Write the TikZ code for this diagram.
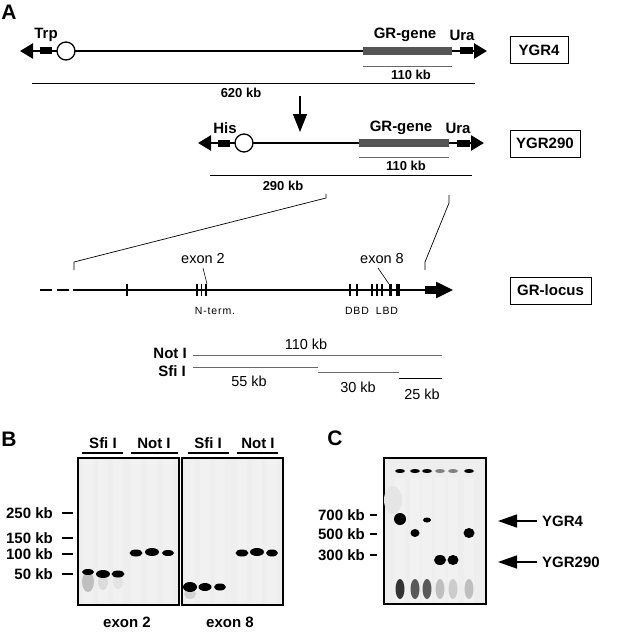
\documentclass[tikz,border=0pt]{standalone}
\usepackage{fontspec}
\setmainfont{Liberation Sans}
\newfontfamily\spacedsans[LetterSpace=8]{Liberation Sans}
\usetikzlibrary{arrows.meta,positioning,calc}
\definecolor{genegray}{RGB}{85,85,85}
\definecolor{scalegray}{RGB}{105,105,105}
\definecolor{gelgray}{RGB}{238,238,238}

\begin{document}
\begin{tikzpicture}[x=1pt, y=-1pt,
  panel/.style={font=\fontsize{21}{24}\selectfont\bfseries, inner sep=0pt},
  lbl/.style={font=\fontsize{15}{17}\selectfont\bfseries, inner sep=0pt},
  kb/.style={font=\fontsize{13}{15}\selectfont\bfseries, inner sep=0pt},
  txt/.style={font=\fontsize{14.5}{16}\selectfont, inner sep=0pt},
  dom/.style={font=\fontsize{10.5}{12}\spacedsans, inner sep=0pt},
  tagbox/.style={draw, line width=1pt, font=\fontsize{15}{17}\selectfont\bfseries,
                 minimum height=27pt, inner sep=0pt},
  chrom/.style={line width=2.6pt},
  gene/.style={fill=genegray},
  scl/.style={line width=0.9pt, draw=scalegray},
  zoomln/.style={line width=0.7pt},
  tipL/.style={-{Triangle[length=13pt,width=15pt]}},
  darr/.style={line width=1.4pt, -{Triangle[length=18pt,width=14pt]}},
  carr/.style={line width=1.4pt, -{Triangle[length=19pt,width=13pt]}},
  gel/.style={draw, line width=1.1pt, fill=gelgray},
  band/.style={fill=black},
  mk/.style={line width=1.4pt}
]
\useasboundingbox (0,0) rectangle (630,634);

% Panel letters
\node[panel] (pa) at (9,12)   {A};
\node[panel] (pb) at (9,439)  {B};
\node[panel] (pc) at (335,438) {C};

% YGR4 construct
\draw[chrom] (40,51) -- (460,51);
\fill[gene] (363,47) rectangle (452,55);
\fill (40,47.5) rectangle (52,54.5);
\fill (460,47.5) rectangle (473,54.5);
\draw[chrom, tipL] (40,51) -- (20,51);
\draw[chrom, -{Triangle[length=13pt,width=15pt]}] (472,51) -- (487,51);
\draw[line width=1.3pt, fill=white] (66,51) circle (9pt);
\node[lbl] (trp)  at (46,35)  {Trp};
\node[lbl] (gr1)  at (405,35) {GR-gene};
\node[lbl] (ura1) at (462,35) {Ura};
\node[tagbox, minimum width=58pt] (ygr4) at (539,50) {YGR4};

\draw[scl] (363,66) -- (452,66);
\node[kb] (s110a) at (411,75) {110 kb};
\draw[line width=0.9pt] (32,83) -- (475,83);
\node[kb] (s620) at (241,93) {620 kb};

% Arrow between constructs
\coordinate (dtop) at (300,96);
\coordinate (dbot) at (300,132);
\draw[darr] (dtop) -- (dbot);

% YGR290 construct
\draw[chrom] (218,143) -- (457,143);
\fill[gene] (359,139) rectangle (449,147);
\fill (218,139.5) rectangle (230,146.5);
\fill (457,139.5) rectangle (470,146.5);
\draw[chrom, tipL] (218,143) -- (198,143);
\draw[chrom, -{Triangle[length=13pt,width=15pt]}] (469,143) -- (484,143);
\draw[line width=1.3pt, fill=white] (244,143) circle (9pt);
\node[lbl] (his)  at (225,128) {His};
\node[lbl] (gr2)  at (401,128) {GR-gene};
\node[lbl] (ura2) at (458,128) {Ura};
\node[tagbox, minimum width=70pt] (ygr290) at (545,143.5) {YGR290};

\draw[scl] (359,157) -- (449,157);
\node[kb] (s110b) at (406,166) {110 kb};
\draw[line width=0.9pt] (210,175) -- (472,175);
\node[kb] (s290) at (283,186) {290 kb};

% Zoom lines to the locus
\draw[zoomln] (326,194) -- (326,198) -- (74,262) -- (74,270);
\draw[zoomln] (449,195) -- (449,203) -- (425,262) -- (425,270);

% GR-locus
\draw[chrom] (40,290) -- (52,290);
\draw[chrom] (57,290) -- (69,290);
\draw[chrom] (73,290) -- (426,290);
\fill (425,286) rectangle (436,294);
\draw[chrom, -{Triangle[length=17pt,width=16pt]}] (434,290) -- (453,290);
\foreach \ex in {127,197,201.5,206,350,357,372,377,382}
  \draw[line width=1.1pt] (\ex,284) -- (\ex,296);
\fill (388.5,284) rectangle (392,296);
\fill (396,284) rectangle (400,296);
\node[txt] (ex2) at (203,259) {exon 2};
\node[txt] (ex8) at (382,259) {exon 8};
\draw[line width=0.6pt] (203,268) -- (207,284);
\draw[line width=0.6pt] (378,268) -- (389,284);
\node[dom] (nterm) at (215,311) {N-term.};
\node[dom] (dbd)   at (357,311) {DBD};
\node[dom] (lbd)   at (387,311) {LBD};
\node[tagbox, minimum width=81pt] (grloc) at (550.5,290.5) {GR-locus};

% Restriction map
\node[lbl, anchor=east] (noti) at (187,353) {Not I};
\node[lbl, anchor=east] (sfii) at (186,371) {Sfi I};
\draw[scl] (193,355) -- (442,355);
\draw[scl] (193,367) -- (318,367);
\draw[scl] (318,372) -- (399,372);
\draw[line width=0.9pt] (399,378) -- (442,378);
\node[txt] (f110) at (306,344) {110 kb};
\node[txt] (f55)  at (249,381) {55 kb};
\node[txt] (f30)  at (358,387) {30 kb};
\node[txt] (f25)  at (422,394) {25 kb};

% Gel B
\node[gel, minimum width=101pt, minimum height=147pt, inner sep=0pt] (gelx2) at (128.5,531.5) {};
\node[gel, minimum width=101pt, minimum height=147pt, inner sep=0pt] (gelx8) at (232.5,531.5) {};
\foreach \ln in {88,103,118,136,152,168,190,205,220,242,257,272}
  \fill[gray!11] (\ln-5,460) rectangle (\ln+5,603);
% smears
\fill[gray!50] (88,582) ellipse [x radius=6pt, y radius=10pt];
\fill[gray!28] (103,582) ellipse [x radius=5pt, y radius=8pt];
\fill[gray!22] (118,582) ellipse [x radius=5pt, y radius=7pt];
\fill[gray!35] (190,594) ellipse [x radius=6pt, y radius=5pt];
% bands exon 2
\fill[band] (88,572)  ellipse [x radius=6pt, y radius=3pt];
\fill[band] (103,574) ellipse [x radius=7pt, y radius=4pt];
\fill[band] (118,574) ellipse [x radius=6.5pt, y radius=3.5pt];
\fill[band] (136,553) ellipse [x radius=6.5pt, y radius=3.5pt];
\fill[band] (152,552) ellipse [x radius=7pt, y radius=4pt];
\fill[band] (168,553) ellipse [x radius=6pt, y radius=3pt];
% bands exon 8
\fill[band] (190,587) ellipse [x radius=7pt, y radius=5pt];
\fill[band] (205,587) ellipse [x radius=6.5pt, y radius=4pt];
\fill[band] (220,587) ellipse [x radius=6pt, y radius=3.5pt];
\fill[band] (242,553) ellipse [x radius=6.5pt, y radius=3.5pt];
\fill[band] (257,552) ellipse [x radius=7pt, y radius=4pt];
\fill[band] (272,553) ellipse [x radius=6pt, y radius=3.5pt];
\draw[line width=1.1pt] (gelx2.north west) rectangle (gelx2.south east);
\draw[line width=1.1pt] (gelx8.north west) rectangle (gelx8.south east);

\node[lbl] (bsfa) at (103,443) {Sfi I};
\node[lbl] (bnoa) at (154,443) {Not I};
\node[lbl] (bsfb) at (208,443) {Sfi I};
\node[lbl] (bnob) at (258,443) {Not I};
\foreach \ul/\ur in {82/123,131/178,188/229,237/278}
  \draw[line width=1.3pt] (\ul,453) -- (\ur,453);
\node[lbl, anchor=east] (m250) at (53,513) {250 kb};
\node[lbl, anchor=east] (m150) at (53,538) {150 kb};
\node[lbl, anchor=east] (m100) at (53,554) {100 kb};
\node[lbl, anchor=east] (m50)  at (53,574) {50 kb};
\foreach \my in {513,538,554,574}
  \draw[mk] (62,\my) -- (73,\my);
\node[lbl] (bex2) at (127,622) {exon 2};
\node[lbl] (bex8) at (230,622) {exon 8};

% Gel C
\node[gel, minimum width=102pt, minimum height=146pt, inner sep=0pt] (gelc) at (435,531) {};
\foreach \ln in {400,415,427,440,453,469}
  \fill[gray!11] (\ln-5,478) rectangle (\ln+5,603);
\fill[gray!20] (393,500) ellipse [x radius=9pt, y radius=14pt];
\foreach \ln/\sh in {400/80,415/65,427/65,440/25,453/20,469/25}
  \fill[black!\sh] (\ln,589) ellipse [x radius=4.5pt, y radius=10pt];
\foreach \ln/\sh in {400/100,415/100,427/100,440/50,453/50,469/100}
  \fill[black!\sh] (\ln,471) ellipse [x radius=5pt, y radius=2pt];
\fill[band] (400,519) ellipse [x radius=6pt, y radius=6pt];
\fill[band] (415,533) ellipse [x radius=4.5pt, y radius=4pt];
\fill[band] (427,520) ellipse [x radius=4pt, y radius=2.5pt];
\fill[band] (440,560) ellipse [x radius=6pt, y radius=5pt];
\fill[band] (453,560) ellipse [x radius=5.5pt, y radius=5pt];
\fill[band] (469,533) ellipse [x radius=5.5pt, y radius=5pt];
\draw[line width=1.1pt] (gelc.north west) rectangle (gelc.south east);

\node[lbl, anchor=east] (m700) at (365,515) {700 kb};
\node[lbl, anchor=east] (m500) at (365,534) {500 kb};
\node[lbl, anchor=east] (m300) at (365,555) {300 kb};
\foreach \my in {515,534,555}
  \draw[mk] (370,\my) -- (377,\my);

\node[lbl, anchor=west] (cy4)   at (542,521) {YGR4};
\node[lbl, anchor=west] (cy290) at (542,562) {YGR290};
\coordinate (t4)   at (498,521);
\coordinate (t290) at (498,562);
\draw[carr] ([xshift=-5pt]cy4.west)   -- (t4);
\draw[carr] ([xshift=-5pt]cy290.west) -- (t290);
\end{tikzpicture}
\end{document}
